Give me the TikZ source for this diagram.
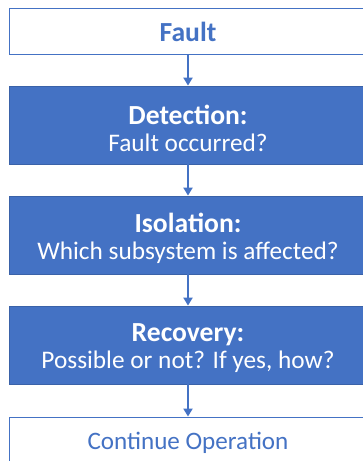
\documentclass[tikz,border=0pt]{standalone}
\usepackage{fontspec}
\setmainfont{Carlito}
\usetikzlibrary{arrows.meta}
\definecolor{obl}{HTML}{4472C4}
\definecolor{oedge}{HTML}{3A62A8}
\begin{document}
\begin{tikzpicture}[x=1pt,y=-1pt,
  hollow/.style={draw=obl,line width=0.9pt,fill=white,minimum width=357pt,minimum height=46pt,inner sep=0pt},
  filled/.style={draw=oedge,line width=0.8pt,fill=obl,minimum width=357pt,minimum height=78pt,inner sep=0pt},
  wtxt/.style={text=white,align=center,inner sep=0pt,font=\fontsize{25.3}{27}\selectfont},
  btxt/.style={text=obl,inner sep=0pt},
  conn/.style={draw=obl,line width=2pt,-{Triangle[length=8pt,width=9pt]}}]
\newcommand\ttlfont{\bfseries\fontsize{27.6}{30}\selectfont}
\useasboundingbox (0,0) rectangle (363,461);
\clip (0,0) rectangle (363,461);
\node[hollow] (fault) at (188,31) {};
\node[btxt,font=\ttlfont] (faultt) at ([yshift=-1pt]fault.center) {Fault};
\node[filled] (det) at (188,125) {};
\node[wtxt] (dett) at ([yshift=-3.5pt]det.center) {{\ttlfont Detection:}\\Fault occurred?};
\node[filled] (iso) at (188,235) {};
\node[wtxt] (isot) at ([yshift=-3.5pt]iso.center) {{\ttlfont Isolation:}\\Which subsystem is affected?};
\node[filled] (rec) at (188,345) {};
\node[wtxt] (rect) at ([yshift=-3.5pt]rec.center) {{\ttlfont Recovery:}\\Possible or not? If yes, how?};
\node[hollow] (cont) at (188,440) {};
\node[btxt,font=\fontsize{25.1}{30}\selectfont] (contt) at ([yshift=-2.5pt]cont.center) {Continue Operation};
\draw[conn] (fault) -- (det);
\draw[conn] (det) -- (iso);
\draw[conn] (iso) -- (rec);
\draw[conn] (rec) -- (cont);
\end{tikzpicture}
\end{document}
